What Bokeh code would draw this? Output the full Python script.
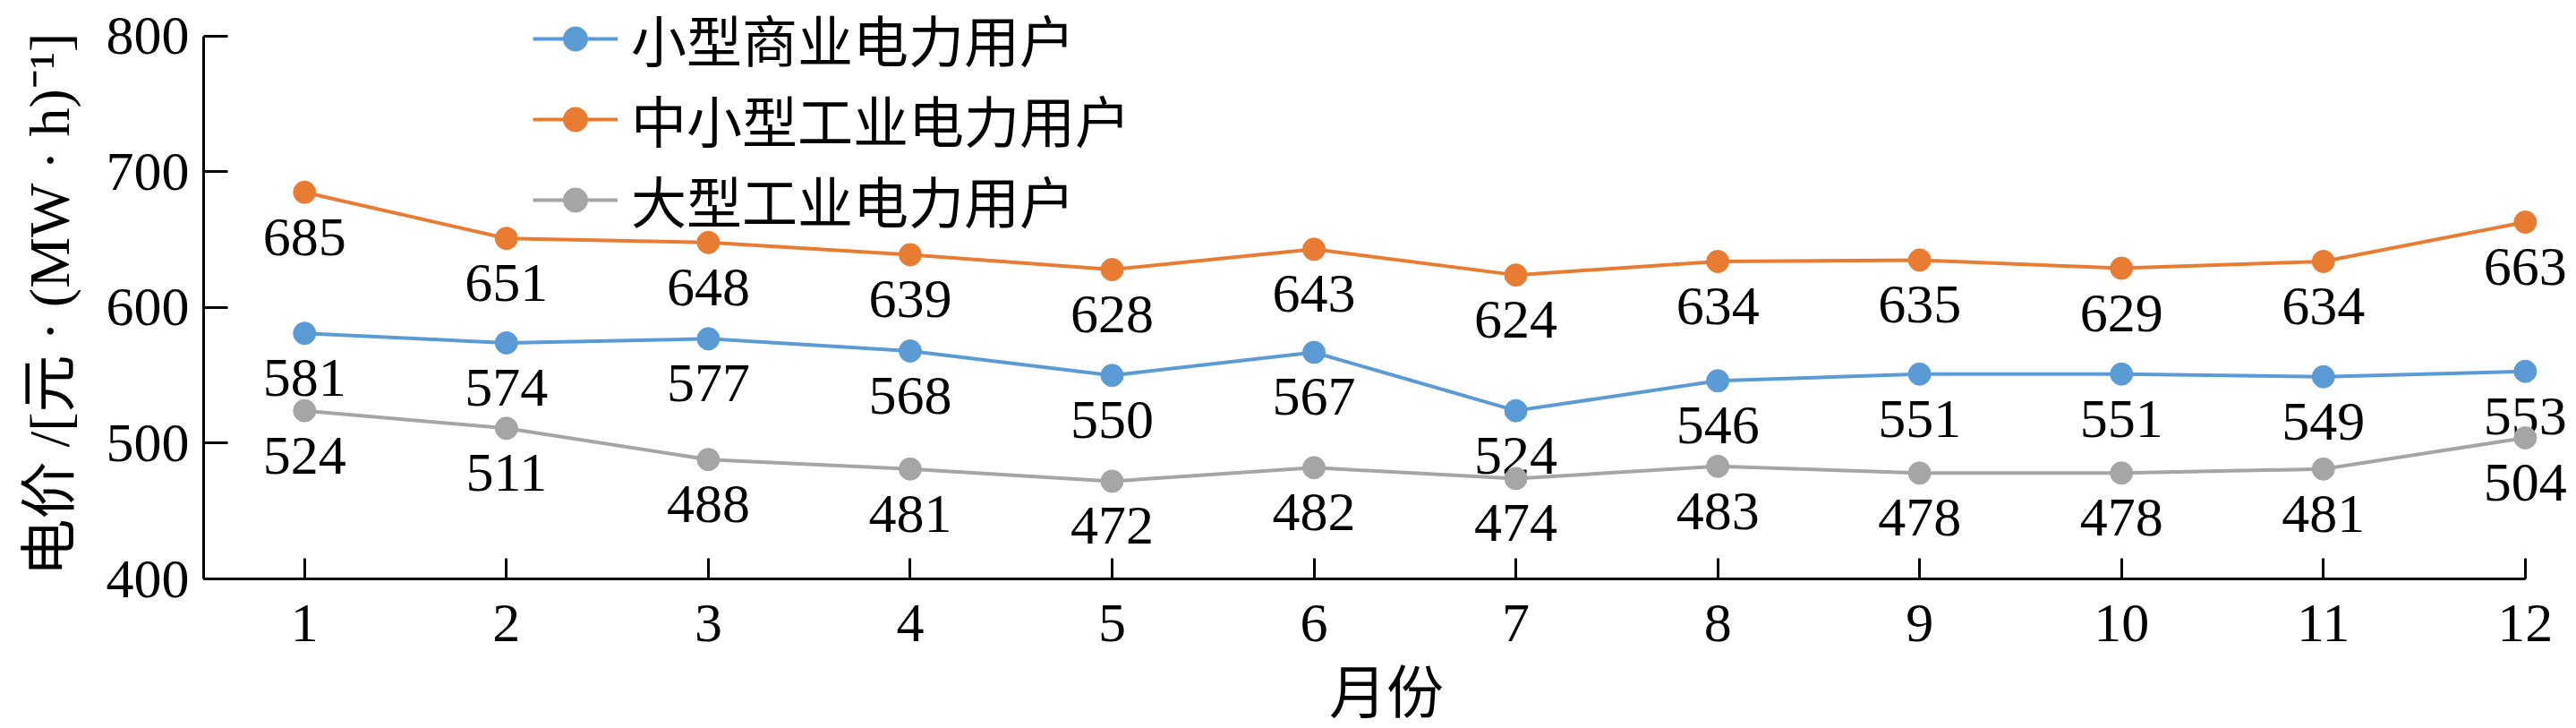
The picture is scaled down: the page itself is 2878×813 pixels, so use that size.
from bokeh.plotting import figure
from bokeh.models import Range1d, FixedTicker, Legend, LegendItem
from bokeh.core.properties import value
from bokeh.embed import file_html
from bokeh.resources import INLINE

# ---- data ----
months = [1, 2, 3, 4, 5, 6, 7, 8, 9, 10, 11, 12]
month_labels = ["1", "2", "3", "4", "5", "6", "7", "8", "9", "10", "11", "12"]
series_names = ["小型商业电力用户", "中小型工业电力用户", "大型工业电力用户"]
small_commercial = [581, 574, 577, 568, 550, 567, 524, 546, 551, 551, 549, 553]
small_medium_industrial = [685, 651, 648, 639, 628, 643, 624, 634, 635, 629, 634, 663]
large_industrial = [524, 511, 488, 481, 472, 482, 474, 483, 478, 478, 481, 504]
y_ticks = [400, 500, 600, 700, 800]
x_title = "月份"
y_title = "电价 /[元 · (MW · h)⁻¹]\u00a0\u00a0"

colors = ["#5B9BD5", "#E87C33", "#A5A5A5"]
FONT = "Liberation Serif, Noto Sans CJK SC"

p = figure(frame_width=2643, frame_height=646, output_backend="svg",
           toolbar_location=None,
           x_range=Range1d(0.5, 12.218), y_range=Range1d(400, 826.4),
           min_border_left=227, min_border_right=0, min_border_top=0,
           min_border_bottom=0)
p.outline_line_color = None
p.xgrid.visible = False
p.ygrid.visible = False
p.background_fill_color = "white"

items = []
for name, vals, c in zip(series_names, [small_commercial, small_medium_industrial, large_industrial], colors):
    ln = p.line(months, vals, line_color=c, line_width=4)
    sc = p.scatter(months, vals, size=25, fill_color=c, line_color=c)
    p.text(x=months, y=vals, text=[str(v) for v in vals], text_align="center",
           text_baseline="middle", y_offset=50, text_font=value(FONT),
           text_font_size="62px", text_color="black")
    items.append(LegendItem(label=name, renderers=[ln, sc]))

legend = Legend(items=items, location=(368, 378), padding=0, margin=0,
                glyph_width=95, glyph_height=68, label_height=68,
                label_standoff=15, spacing=0,
                label_text_font=FONT, label_text_font_size="62px",
                label_text_color="black",
                background_fill_alpha=0, border_line_color=None)
p.add_layout(legend, "center")

for ax in (p.xaxis[0], p.yaxis[0]):
    ax.axis_line_width = 3
    ax.axis_line_color = "black"
    ax.major_tick_line_width = 3
    ax.major_tick_line_color = "black"
    ax.major_tick_out = 0
    ax.minor_tick_line_color = None
    ax.major_label_text_font = FONT
    ax.major_label_text_font_size = "62px"
    ax.major_label_text_color = "black"
    ax.axis_label_text_font = FONT
    ax.axis_label_text_font_size = "64px"
    ax.axis_label_text_font_style = "normal"
    ax.axis_label_text_color = "black"

xa = p.xaxis[0]
xa.ticker = FixedTicker(ticks=months)
xa.major_label_overrides = {m: s for m, s in zip(months, month_labels)}
xa.major_tick_in = 23
xa.bounds = (0.5, 12)
xa.major_label_standoff = 29
xa.axis_label = x_title
xa.axis_label_standoff = 20

ya = p.yaxis[0]
ya.ticker = FixedTicker(ticks=y_ticks)
ya.major_tick_in = 27
ya.bounds = (400, 800)
ya.major_label_standoff = 16
ya.axis_label = y_title
ya.axis_label_standoff = 25

open("out.html", "w").write(file_html(p, INLINE))
